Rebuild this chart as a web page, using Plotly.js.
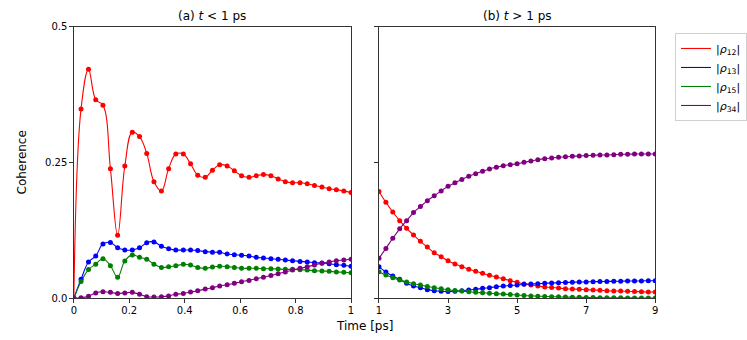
<!DOCTYPE html>
<html>
<head>
<meta charset="utf-8">
<script src="https://cdn.plot.ly/plotly-3.0.1.min.js"></script>
<style>
  html, body { margin: 0; padding: 0; background: #fff; }
  #plot { width: 747px; height: 340px; }
</style>
</head>
<body>
<div id="plot"></div>
<script>
// Left panel: t < 1 ps
const tShort = [0, 0.026, 0.053, 0.079, 0.105, 0.132, 0.158, 0.184, 0.211, 0.237,
  0.263, 0.289, 0.316, 0.342, 0.368, 0.395, 0.421, 0.447, 0.474, 0.5,
  0.526, 0.553, 0.579, 0.605, 0.632, 0.658, 0.684, 0.711, 0.737, 0.763,
  0.789, 0.816, 0.842, 0.868, 0.895, 0.921, 0.947, 0.974, 1.0];

const rho12Short = [0, 0.349, 0.422, 0.366, 0.356, 0.239, 0.116, 0.244, 0.306, 0.298,
  0.267, 0.215, 0.198, 0.239, 0.266, 0.266, 0.248, 0.227, 0.223, 0.236,
  0.246, 0.244, 0.235, 0.226, 0.223, 0.226, 0.228, 0.226, 0.220, 0.215,
  0.213, 0.213, 0.211, 0.208, 0.205, 0.202, 0.200, 0.198, 0.195];
const rho13Short = [0, 0.035, 0.067, 0.078, 0.100, 0.103, 0.093, 0.089, 0.089, 0.093,
  0.1025, 0.104, 0.096, 0.0915, 0.089, 0.089, 0.089, 0.088, 0.086, 0.085,
  0.0848, 0.0817, 0.0805, 0.0792, 0.078, 0.0755, 0.0743, 0.073, 0.072, 0.0706,
  0.0693, 0.068, 0.067, 0.0656, 0.065, 0.0638, 0.062, 0.0608, 0.059];
const rho15Short = [0, 0.031, 0.053, 0.063, 0.073, 0.060, 0.039, 0.069, 0.080, 0.0755,
  0.072, 0.063, 0.057, 0.058, 0.060, 0.0627, 0.0614, 0.057, 0.0553, 0.0577,
  0.059, 0.0584, 0.057, 0.0553, 0.0553, 0.0553, 0.0546, 0.0546, 0.054, 0.0534,
  0.0534, 0.0528, 0.052, 0.051, 0.0503, 0.0497, 0.0485, 0.048, 0.0472];
const rho34Short = [0, 0.001, 0.004, 0.010, 0.012, 0.011, 0.009, 0.010, 0.011, 0.0074,
  0.003, 0.0025, 0.003, 0.0045, 0.0074, 0.009, 0.0115, 0.014, 0.017, 0.0196,
  0.0227, 0.025, 0.0277, 0.0306, 0.033, 0.036, 0.039, 0.042, 0.0454, 0.0485,
  0.052, 0.0553, 0.058, 0.0614, 0.0645, 0.067, 0.0693, 0.0706, 0.072];

// Right panel: t > 1 ps
const tLong = [1.0, 1.2, 1.4, 1.6, 1.8, 2.0, 2.2, 2.4, 2.6, 2.8,
  3.0, 3.2, 3.4, 3.6, 3.8, 4.0, 4.2, 4.4, 4.6, 4.8,
  5.0, 5.2, 5.4, 5.6, 5.8, 6.0, 6.2, 6.4, 6.6, 6.8,
  7.0, 7.2, 7.4, 7.6, 7.8, 8.0, 8.2, 8.4, 8.6, 8.8, 9.0];

const rho12Long = [0.197, 0.177, 0.159, 0.143, 0.129, 0.1167, 0.105, 0.0945, 0.084, 0.0767,
  0.0693, 0.0632, 0.0583, 0.0535, 0.0498, 0.046, 0.0424, 0.0393, 0.036, 0.0325,
  0.0295, 0.0264, 0.0245, 0.0227, 0.0208, 0.0200, 0.019, 0.0177, 0.0171, 0.0166,
  0.0159, 0.0153, 0.0147, 0.014, 0.0135, 0.0133, 0.0129, 0.0124, 0.0121, 0.0117, 0.0116];
const rho13Long = [0.058, 0.0485, 0.041, 0.035, 0.0277, 0.0227, 0.0196, 0.016, 0.014, 0.0129,
  0.0127, 0.0132, 0.014, 0.0153, 0.0166, 0.0184, 0.0196, 0.0212, 0.0227, 0.0235,
  0.0245, 0.0258, 0.0264, 0.027, 0.0277, 0.0282, 0.0288, 0.0293, 0.0296, 0.03,
  0.0302, 0.0306, 0.0308, 0.0312, 0.0313, 0.0315, 0.0319, 0.032, 0.0321, 0.0324, 0.0325];
const rho15Long = [0.049, 0.043, 0.038, 0.0337, 0.030, 0.027, 0.0245, 0.022, 0.0196, 0.0177,
  0.0159, 0.0142, 0.0133, 0.0122, 0.011, 0.0102, 0.0093, 0.0086, 0.0078, 0.0069,
  0.006, 0.0052, 0.0045, 0.004, 0.0034, 0.0031, 0.0027, 0.0024, 0.002, 0.0018,
  0.0017, 0.0014, 0.0012, 0.0011, 0.001, 0.0009, 0.0008, 0.0007, 0.0006, 0.0005, 0.0005];
const rho34Long = [0.0737, 0.092, 0.1106, 0.128, 0.143, 0.158, 0.169, 0.18, 0.189, 0.198,
  0.2065, 0.213, 0.219, 0.225, 0.2297, 0.234, 0.2384, 0.2415, 0.2445, 0.2463,
  0.248, 0.2507, 0.253, 0.2555, 0.2574, 0.2587, 0.26, 0.261, 0.2617, 0.2624,
  0.263, 0.2636, 0.2642, 0.2642, 0.2648, 0.2654, 0.2654, 0.266, 0.266, 0.266, 0.266];

const seriesNames = ['|<i>ρ</i><sub>12</sub>|', '|<i>ρ</i><sub>13</sub>|',
                     '|<i>ρ</i><sub>15</sub>|', '|<i>ρ</i><sub>34</sub>|'];
const seriesColors = ['#ff0000', '#0000ff', '#008000', '#800080'];
const shortData = [rho12Short, rho13Short, rho15Short, rho34Short];
const longData = [rho12Long, rho13Long, rho15Long, rho34Long];

let traces = [];
// smooth lines first (legend entries come from the left-panel lines), dots on top
for (let k = 0; k < 4; k++) {
    traces.push({
        x: tShort, y: shortData[k], xaxis: 'x', yaxis: 'y',
        mode: 'lines', name: seriesNames[k],
        line: { color: seriesColors[k], width: 1.1, shape: 'spline', smoothing: 1.1 }
    });
    traces.push({
        x: tLong, y: longData[k], xaxis: 'x2', yaxis: 'y2',
        mode: 'lines', showlegend: false,
        line: { color: seriesColors[k], width: 1.1, shape: 'spline', smoothing: 1.1 }
    });
}
for (let k = 0; k < 4; k++) {
    traces.push({
        x: tShort, y: shortData[k], xaxis: 'x', yaxis: 'y',
        mode: 'markers', showlegend: false,
        marker: { color: seriesColors[k], size: 5 }
    });
    traces.push({
        x: tLong, y: longData[k], xaxis: 'x2', yaxis: 'y2',
        mode: 'markers', showlegend: false,
        marker: { color: seriesColors[k], size: 5 }
    });
}

const axisStyle = {
    showline: true, mirror: true, linecolor: '#333', linewidth: 1,
    ticks: 'outside', ticklen: 3.5, tickwidth: 1, tickcolor: '#333',
    showgrid: false, zeroline: false,
    tickfont: { family: 'DejaVu Sans', size: 10, color: '#000' }
};

const layout = {
    width: 747, height: 340,
    margin: { l: 0, r: 0, t: 0, b: 0 },
    paper_bgcolor: '#fff', plot_bgcolor: '#fff',
    font: { family: 'DejaVu Sans', size: 10, color: '#000' },
    xaxis: Object.assign({}, axisStyle, {
        domain: [0.0991, 0.4712], range: [0, 1], ticklabelstandoff: -1,
        tickvals: [0, 0.2, 0.4, 0.6, 0.8, 1], ticktext: ['0', '0.2', '0.4', '0.6', '0.8', '1']
    }),
    yaxis: Object.assign({}, axisStyle, {
        domain: [0.1226, 0.9206], range: [0, 0.5],
        tickvals: [0, 0.25, 0.5], ticktext: ['0.0', '0.25', '0.5']
    }),
    xaxis2: Object.assign({}, axisStyle, {
        domain: [0.5087, 0.8795], range: [1, 9], anchor: 'y2', ticklabelstandoff: -1,
        tickvals: [1, 3, 5, 7, 9]
    }),
    yaxis2: Object.assign({}, axisStyle, {
        domain: [0.1226, 0.9206], range: [0, 0.5], anchor: 'x2',
        tickvals: [0, 0.25, 0.5], showticklabels: false
    }),
    showlegend: true,
    legend: {
        x: 0.906, y: 0.903, xanchor: 'left', yanchor: 'top',
        bgcolor: '#fff', bordercolor: '#d0d0d0', borderwidth: 1,
        font: { family: 'DejaVu Sans', size: 11, color: '#000' },
        itemwidth: 30, tracegroupgap: 0
    },
    annotations: [
        { text: '(a) <i>t</i> &lt; 1 ps', xref: 'paper', yref: 'paper', x: 0.2851, y: 0.925,
          xanchor: 'center', yanchor: 'bottom', showarrow: false, font: { size: 12 } },
        { text: '(b) <i>t</i> &gt; 1 ps', xref: 'paper', yref: 'paper', x: 0.6941, y: 0.925,
          xanchor: 'center', yanchor: 'bottom', showarrow: false, font: { size: 12 } },
        { text: 'Coherence', xref: 'paper', yref: 'paper', x: 0.0295, y: 0.522,
          xanchor: 'center', yanchor: 'middle', textangle: -90, showarrow: false, font: { size: 12 } },
        { text: 'Time [ps]', xref: 'paper', yref: 'paper', x: 0.4899, y: 0.0,
          xanchor: 'center', yanchor: 'bottom', yshift: 5, showarrow: false, font: { size: 12 } }
    ]
};

Plotly.newPlot('plot', traces, layout, { displayModeBar: false, staticPlot: true });
</script>
</body>
</html>
